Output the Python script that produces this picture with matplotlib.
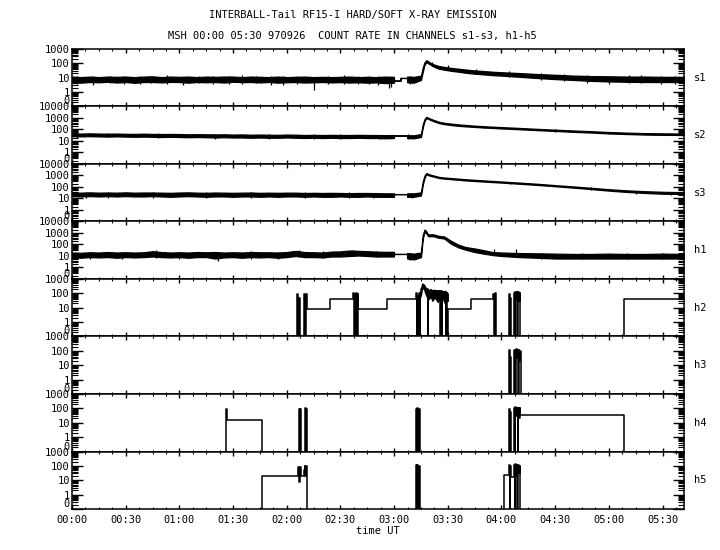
import numpy as np
import matplotlib
matplotlib.use('Agg')
from matplotlib import pyplot as plt
from matplotlib.ticker import FixedLocator, FixedFormatter, LogLocator, MultipleLocator, NullFormatter, FuncFormatter

plt.rcParams['font.family'] = ['DejaVu Sans Mono']
plt.rcParams['font.size'] = 7.5

# time in minutes after 00:00 UT, 970926
# soft channels: lower / upper edge of the noisy trace at each sample time
soft_t = [0, 5, 10, 15, 20, 25, 30, 35, 40, 45, 50, 55, 60, 65, 70, 75, 80, 85, 90,
          95, 100, 105, 110, 115, 120, 125, 130, 135, 140, 145, 150, 155, 160, 165, 170, 175,
          179.9, 180, 183.5, 183.6, 187.2, 187.3, 191, 195, 196, 197, 198, 199, 200, 202, 205,
          208, 212, 216, 220,
          225, 230, 235, 240, 250, 260, 270, 280, 290, 300, 310, 320, 330, 342]

s1_lo = [5, 4.5, 5, 4.8, 5.2, 4.6, 5, 4.4, 5, 5, 4.7, 5.1, 5, 4.5, 5, 4.8, 5, 4.6, 5.2,
         4.9, 5, 4.7, 5, 4.5, 4.8, 5, 4.6, 4.8, 5, 4.7, 4.9, 4.6, 4.8, 4.5, 4.7, 4.2,
         4.5, 6.2, 6.2, 9.6, 9.6, 4.8, 4.5, 7, 25, 80, 120, 100, 85, 60, 42,
         36, 30, 26, 22,
         19, 17, 15, 14, 11.5, 9.5, 8, 7, 6, 5.5, 5.2, 5, 5, 5]
s1_hi = [12, 11, 12, 11, 12, 11.5, 12, 11, 12, 12.5, 11, 12, 11.5, 12, 11, 12, 11.5, 12, 12,
         11, 12, 11.5, 11, 12, 11, 11.5, 12, 11, 11.5, 11, 11.5, 12, 11, 11.5, 11, 12,
         11.5, 6.2, 6.2, 9.6, 9.6, 12, 11.5, 14, 50, 120, 165, 140, 115, 85, 65,
         56, 48, 42, 37,
         32, 29, 26, 24, 21, 18, 16, 14, 13, 12.5, 12, 12, 11.5, 11.5]

s2_lo = [26, 25, 26, 25, 24, 25, 24, 23, 24, 23, 22, 23, 22, 21, 22, 21, 20, 21, 20,
         20, 19, 20, 19, 19, 20, 19, 18, 19, 18, 19, 18, 18, 19, 18, 18, 17,
         18, 29, 29, 29, 29, 18, 17, 22, 150, 550, 950, 850, 700, 520, 360,
         290, 240, 205, 185,
         165, 148, 135, 123, 104, 87, 74, 62, 54, 45, 40, 36, 34, 33]
s2_hi = [45, 44, 46, 44, 43, 44, 42, 41, 43, 41, 40, 41, 40, 38, 39, 38, 37, 38, 36,
         37, 35, 36, 35, 34, 36, 35, 33, 34, 33, 34, 33, 33, 34, 33, 33, 32,
         33, 29, 29, 29, 29, 32, 31, 40, 280, 800, 1250, 1050, 900, 680, 470,
         380, 320, 275, 245,
         215, 192, 175, 160, 136, 113, 96, 82, 71, 60, 53, 48, 46, 44]

s3_lo = [16, 15, 16, 15, 16, 15, 16, 15, 15, 16, 15, 14, 15, 16, 15, 14, 15, 15, 14,
         15, 15, 14, 15, 14, 15, 15, 14, 15, 14, 14, 15, 14, 14, 15, 14, 14,
         14, 24, 24, 24, 24, 14, 14, 18, 150, 650, 1250, 1100, 950, 800, 600,
         530, 470, 420, 370,
         330, 295, 265, 240, 190, 150, 115, 88, 66, 48, 37, 30, 26, 24]
s3_hi = [33, 32, 34, 32, 33, 32, 34, 32, 33, 33, 32, 31, 33, 34, 32, 31, 33, 32, 31,
         32, 33, 31, 32, 31, 32, 32, 30, 31, 30, 31, 30, 29, 30, 30, 29, 28,
         28, 24, 24, 24, 24, 28, 28, 34, 300, 1000, 1600, 1400, 1200, 1000, 760,
         670, 590, 530, 470,
         420, 375, 335, 300, 240, 190, 145, 112, 85, 64, 51, 43, 38, 35]

h1_lo = [8, 7, 8, 7.5, 8, 7, 8, 7.5, 8, 9, 8, 7.5, 8, 7, 8, 8, 6, 7.5, 8,
         7, 8, 7.5, 8, 7, 8, 10, 8, 8, 7.5, 9, 9, 10, 11, 10, 9, 9,
         9, 15, 15, 15, 15, 6, 5, 8, 300, 1300, 900, 520, 520, 520, 380,
         330, 110, 55, 35,
         22, 16, 12, 10, 8, 7, 6, 6, 6, 6, 6, 6, 6, 6]
h1_hi = [20, 19, 21, 20, 22, 20, 21, 20, 21, 26, 22, 20, 21, 20, 22, 21, 22, 20, 21,
         20, 22, 21, 21, 20, 22, 28, 22, 21, 20, 24, 25, 30, 28, 26, 24, 23,
         23, 15, 15, 15, 15, 18, 16, 20, 700, 2000, 1400, 760, 760, 760, 560,
         500, 200, 95, 60,
         45, 32, 22, 20, 18, 17, 16, 15, 15, 16, 15, 15, 16, 15]

# isolated noise spikes on the soft traces
s1_sp_t = [3, 12, 21, 29, 38, 44, 53, 62, 71, 79, 88, 95, 103, 111, 118, 126, 135, 143,
           152, 160, 166, 171, 177, 178.5, 189, 201, 210, 226, 244, 262, 275, 288, 300,
           311, 318, 329, 337]
s1_sp_lo = [3.8, 3, 4, 3.5, 3.5, 4, 3.6, 3.2, 4, 3.4, 3.8, 3.5, 4, 3.3, 3, 3.7, 1.5, 3.6,
            3.5, 3.8, 3.4, 3, 2, 2.3, 3.5, 70, 40, 17, 11, 7, 6, 4.5, 3.5,
            4, 4, 3.8, 3.5]
s1_sp_hi = [13, 13, 14, 12.5, 14, 13, 15, 12, 13.5, 13, 14, 15, 13, 13.5, 13, 14, 12, 13,
            16, 13.5, 13, 13, 12, 11, 13, 130, 75, 40, 30, 22, 19, 15, 14,
            15, 15, 14, 13]
s2_sp_t = [3, 20, 48, 80, 110, 135, 150, 172, 188, 230, 240, 270, 300, 325]
s2_sp_lo = [20, 21, 17, 16, 15, 15, 14, 14, 14, 130, 110, 65, 40, 32]
s2_sp_hi = [60, 50, 48, 44, 40, 40, 38, 36, 38, 210, 170, 105, 62, 52]
s3_sp_t = [8, 20, 45, 75, 100, 130, 155, 168, 190, 245, 290, 315, 335]
s3_sp_lo = [12, 12, 12, 11, 12, 11, 11, 11, 11, 190, 60, 26, 22]
s3_sp_hi = [38, 38, 36, 36, 37, 34, 34, 33, 32, 290, 90, 46, 40]
h1_sp_t = [10, 28, 47, 60, 81.5, 100, 115, 127, 140, 157, 170, 189, 192, 236, 248, 262,
           285, 310, 330]
h1_sp_lo = [6, 6, 7, 6, 3.5, 6, 6, 8, 7, 10, 8, 4.5, 5, 14, 14, 5, 5, 5, 5]
h1_sp_hi = [24, 24, 32, 24, 20, 25, 24, 32, 25, 36, 26, 18, 16, 42, 42, 18, 18, 17, 18]

# hard channels: step values (0 = no counts)
h2_t = [0, 125.8, 126.4, 126.8, 127.4, 129.8, 130.3, 130.6, 131.1, 144,
        157.2, 157.6, 158.0, 158.4, 158.8, 159.2, 159.6, 160.0, 176.2,
        192.2, 192.7, 193.0, 193.4, 193.8, 194.2, 194.6, 195.0, 198.8, 199.2,
        205.8, 206.2, 206.6, 207.0, 208.8, 209.2, 209.6, 210.0, 223.2,
        235.3, 235.8, 236.2, 236.7, 244.1, 244.6, 245.0, 245.6,
        246.9, 247.3, 247.7, 248.1, 248.5, 248.9, 249.3, 249.7, 250.1, 250.6, 308.6, 342]
h2_v = [0, 85, 0, 45, 0, 90, 0, 95, 8, 38,
        100, 0, 95, 0, 100, 0, 90, 8, 38,
        100, 0, 70, 0, 110, 0, 60, 200, 0, 150,
        0, 140, 0, 130, 0, 110, 0, 8, 38,
        95, 0, 100, 0, 85, 0, 45, 0,
        110, 0, 125, 40, 120, 0, 115, 30, 100, 0, 38, 38]
# dense noisy burst in h2 around 03:15-03:30
h2_band_t = [195.0, 195.6, 196.3, 197.0, 197.6, 198.2, 199.4, 200.4, 201.4, 202.4, 203.4,
             204.4, 205.4, 206.4, 207.4, 208.4, 209.4, 210.0]
h2_band_lo = [80, 250, 300, 150, 90, 60, 40, 60, 30, 50, 40, 25, 50, 30, 40, 20, 30, 30]
h2_band_hi = [200, 480, 450, 350, 250, 200, 170, 200, 160, 180, 150, 170, 160, 150, 140,
              150, 120, 100]

h3_t = [0, 244.1, 244.6, 245.0, 245.5, 247.2, 247.6, 248.0, 248.4, 248.8,
        249.2, 249.6, 250.0, 250.4, 250.8, 342]
h3_v = [0, 120, 0, 40, 0, 110, 0, 125, 30, 120,
        0, 115, 20, 100, 0, 0]

h4_t = [0, 85.8, 86.4, 106.3, 126.9, 127.2, 127.4, 127.8, 130.1, 130.5, 130.8, 131.2,
        192.2, 192.6, 193.0, 193.4, 193.8, 194.4,
        244.1, 244.6, 245.0, 245.5, 247.0, 247.4, 247.8, 248.2, 248.6, 249.0,
        249.4, 249.8, 250.2, 250.6, 308.6, 342]
h4_v = [0, 97, 15.5, 0, 95, 0, 90, 0, 100, 0, 95, 0,
        95, 0, 100, 0, 85, 0,
        90, 0, 60, 0, 110, 0, 130, 30, 115, 0,
        110, 20, 100, 35, 0, 0]

h5_t = [0, 106.3, 126.4, 126.8, 127.2, 127.8, 129.4, 130.0, 130.4, 130.7, 131.1,
        192.2, 192.6, 193.0, 193.4, 193.8, 194.4,
        241.4, 244.1, 244.5, 244.9, 245.3, 246.9, 247.3, 247.7, 248.1, 248.5, 248.9,
        249.3, 249.7, 250.1, 250.6, 342]
h5_v = [0, 21, 90, 7, 85, 21, 55, 95, 20, 95, 0,
        110, 0, 120, 0, 100, 0,
        24, 110, 0, 95, 16, 110, 0, 125, 20, 120, 0,
        115, 30, 100, 0, 0]

names = ['s1', 's2', 's3', 'h1', 'h2', 'h3', 'h4', 'h5']
tops = [1000, 10000, 10000, 10000, 1000, 1000, 1000, 1000]
soft = [(s1_lo, s1_hi, s1_sp_t, s1_sp_lo, s1_sp_hi),
        (s2_lo, s2_hi, s2_sp_t, s2_sp_lo, s2_sp_hi),
        (s3_lo, s3_hi, s3_sp_t, s3_sp_lo, s3_sp_hi),
        (h1_lo, h1_hi, h1_sp_t, h1_sp_lo, h1_sp_hi)]
hard = [(h2_t, h2_v), (h3_t, h3_v), (h4_t, h4_v), (h5_t, h5_v)]


fig, axes = plt.subplots(8, 1, sharex=True, figsize=(7.2, 5.5), dpi=100)
fig.subplots_adjust(left=0.1, right=0.95, top=0.911, bottom=0.0745, hspace=0)

for i, ax in enumerate(axes):
    if i < 4:
        lo, hi, sp_t, sp_lo, sp_hi = soft[i]
        ax.fill_between(soft_t, lo, hi, facecolor='k', edgecolor='k', lw=0.9)
        ax.vlines(sp_t, sp_lo, sp_hi, color='k', lw=0.9)
    else:
        t, v = hard[i - 4]
        ax.step(t, v, where='post', color='k', lw=1.1)
    if names[i] == 'h2':
        ax.fill_between(h2_band_t, h2_band_lo, h2_band_hi, facecolor='k', edgecolor='k', lw=0.9)

    ax.set_yscale('log')
    ax.set_ylim(0.1, tops[i])
    ticks = [0.1, 1, 10, 100, 1000, 10000]
    labels = ['0', '1', '10', '100', '1000', '10000']
    n = 5 if tops[i] == 1000 else 6
    ax.yaxis.set_major_locator(FixedLocator(ticks[:n]))
    ax.yaxis.set_major_formatter(FixedFormatter(labels[:n]))
    ax.yaxis.set_minor_locator(LogLocator(subs=np.arange(2, 10), numticks=20))
    ax.yaxis.set_minor_formatter(NullFormatter())
    ax.tick_params(axis='y', which='major', direction='in', length=8, width=1,
                   left=True, right=True, pad=1.5)
    ax.tick_params(axis='y', which='minor', direction='in', length=4, width=0.8,
                   left=True, right=True)
    ax.tick_params(axis='x', which='major', direction='in', length=3.2, width=1,
                   top=True, bottom=True)
    ax.tick_params(axis='x', which='minor', direction='in', length=1.6, width=0.8,
                   top=True, bottom=True)
    for sp in ax.spines.values():
        sp.set_linewidth(1.1)
    ax.yaxis.get_major_ticks()[0].label1.set_va('bottom')
    ax.text(1.016, 0.5, names[i], transform=ax.transAxes, va='center', ha='left')

ax = axes[-1]
ax.set_xlim(0, 342)
ax.xaxis.set_major_locator(MultipleLocator(30))
ax.xaxis.set_minor_locator(MultipleLocator(7.5))
ax.xaxis.set_major_formatter(FuncFormatter(lambda v, p: '%02d:%02d' % (int(v) // 60, int(v) % 60)))
ax.tick_params(axis='x', pad=4)
ax.set_xlabel('time UT', labelpad=1)

fig.text(0.49, 0.972, 'INTERBALL-Tail RF15-I HARD/SOFT X-RAY EMISSION', ha='center', va='center')
fig.text(0.49, 0.934, 'MSH 00:00 05:30 970926  COUNT RATE IN CHANNELS s1-s3, h1-h5',
         ha='center', va='center')

plt.savefig('out.png', dpi=100)
